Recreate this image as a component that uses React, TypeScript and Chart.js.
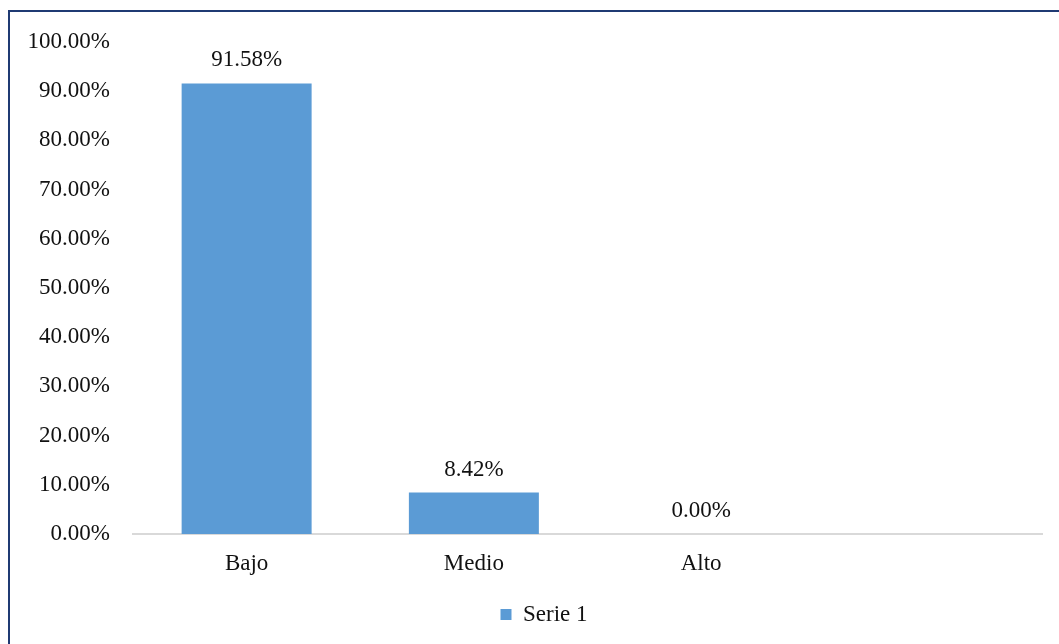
import React, { useEffect, useRef } from "react";
import { Chart, registerables } from "chart.js";

Chart.register(...registerables);

const categories = ["Bajo", "Medio", "Alto", ""];
const serie1 = [91.58, 8.42, 0.0];
const seriesName = "Serie 1";
const yTicksMax = 100;
const yTickStep = 10;

const FONT = '"Liberation Serif", "Times New Roman", serif';
const FS = 23;

const dataLabelPlugin = {
  id: "dataLabels",
  afterDatasetsDraw(chart: any) {
    const ctx = chart.ctx;
    ctx.save();
    ctx.font = `${FS}px ${FONT}`;
    ctx.fillStyle = "#111";
    ctx.textAlign = "center";
    ctx.textBaseline = "middle";
    chart.data.datasets.forEach((ds: any, di: number) => {
      const meta = chart.getDatasetMeta(di);
      meta.data.forEach((el: any, i: number) => {
        const v = ds.data[i];
        if (v === null || v === undefined) return;
        ctx.fillText(Number(v).toFixed(2) + "%", el.x, el.y - 23);
      });
    });
    ctx.restore();
  },
};

const legendShiftPlugin = {
  id: "legendShift",
  afterLayout(chart: any) {
    const lg = chart.legend;
    if (lg) {
      lg.left += 23;
      lg.right += 23;
    }
  },
};

export default function App() {
  const ref = useRef<HTMLCanvasElement | null>(null);
  useEffect(() => {
    if (!ref.current) return;
    const chart = new Chart(ref.current, {
      type: "bar",
      data: {
        labels: categories,
        datasets: [
          {
            label: seriesName,
            data: serie1,
            backgroundColor: "#5b9bd5",
            borderWidth: 0,
            categoryPercentage: 1,
            barPercentage: 0.572,
          },
        ],
      },
      options: {
        responsive: false,
        animation: false,
        layout: { padding: { top: 42, right: 45, bottom: 8, left: 0 } },
        plugins: {
          legend: {
            position: "bottom",
            labels: {
              boxWidth: 11,
              boxHeight: 11,
              padding: 8,
              color: "#111",
              font: { family: FONT, size: FS },
            },
          },
          tooltip: { enabled: false },
        },
        scales: {
          x: {
            grid: { display: false, drawTicks: false },
            border: { display: true, color: "#d9d9d9", width: 2 },
            ticks: { color: "#111", padding: 16, font: { family: FONT, size: FS } },
            afterFit(scale: any) {
              scale.height = 61;
            },
          },
          y: {
            min: 0,
            max: yTicksMax,
            grid: { display: false, drawTicks: false },
            border: { display: false },
            ticks: {
              stepSize: yTickStep,
              color: "#111",
              padding: 23,
              font: { family: FONT, size: FS },
              callback: (v: any) => Number(v).toFixed(2) + "%",
            },
            afterFit(scale: any) {
              scale.width = 133;
            },
          },
        },
      },
      plugins: [dataLabelPlugin, legendShiftPlugin],
    });
    return () => chart.destroy();
  }, []);

  return (
    <div
      style={{
        position: "fixed",
        left: 0,
        top: 0,
        width: 1059,
        height: 644,
        overflow: "hidden",
        background: "#fff",
      }}
    >
      <canvas
        ref={ref}
        width={1087}
        height={644}
        style={{ position: "absolute", left: 0, top: 0, width: 1087, height: 644 }}
      />
      <div
        style={{
          position: "absolute",
          left: 8,
          top: 10,
          width: 2000,
          height: 2000,
          border: "2px solid #1f3a73",
          pointerEvents: "none",
        }}
      />
    </div>
  );
}
